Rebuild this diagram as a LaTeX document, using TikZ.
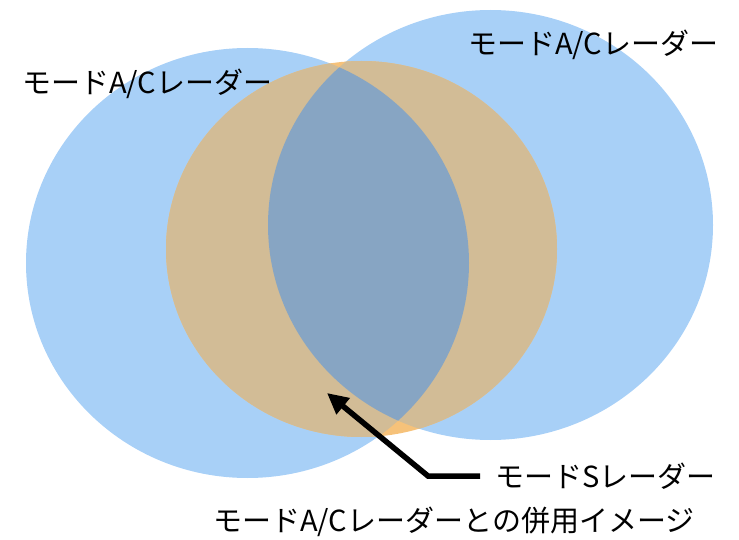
\documentclass[tikz,border=0pt]{standalone}
\usepackage{fontspec}
\newfontfamily\jpfont{Noto Sans CJK JP}
\usetikzlibrary{arrows.meta}
\definecolor{RadarBlue}{HTML}{A8D0F7}
\definecolor{DoubleBlue}{HTML}{86B8EA}
\definecolor{OverlapTan}{HTML}{D2BC96}
\definecolor{LensBlue}{HTML}{87A5C3}
\definecolor{ModeSOrange}{HTML}{F6C27A}

\begin{document}
\begin{tikzpicture}[
    x=1pt, y=-1pt,
    lab/.style={font=\jpfont\fontsize{29}{34}\selectfont, inner sep=0pt, anchor=west},
    arr/.style={-{Triangle[length=21pt, width=20pt]}, line width=5.5pt, black}
  ]
    \useasboundingbox (0,0) rectangle (739,540);

    % Mode A/C coverage (left, right)
    \fill[RadarBlue] (247.5,263) ellipse [x radius=221.5, y radius=215];
    \fill[RadarBlue] (490.5,225) ellipse [x radius=222.5, y radius=215];
    \begin{scope}
      \clip (247.5,263) ellipse [x radius=221.5, y radius=215];
      \fill[DoubleBlue] (490.5,225) ellipse [x radius=222.5, y radius=215];
    \end{scope}

    % Mode S coverage
    \fill[ModeSOrange] (361.5,249) ellipse [x radius=195.5, y radius=188];
    \begin{scope}
      \clip (361.5,249) ellipse [x radius=195.5, y radius=188];
      \fill[OverlapTan] (247.5,263) ellipse [x radius=221.5, y radius=215];
      \fill[OverlapTan] (490.5,225) ellipse [x radius=222.5, y radius=215];
      \clip (247.5,263) ellipse [x radius=221.5, y radius=215];
      \fill[LensBlue] (490.5,225) ellipse [x radius=222.5, y radius=215];
    \end{scope}

    % Labels
    \node[lab] (acleft)  at (22,84)   {モードA/Cレーダー};
    \node[lab] (acright) at (468,45)  {モードA/Cレーダー};
    \node[lab] (modes)   at (495,476) {モードSレーダー};
    \node[lab] (caption) at (213,522) {モードA/Cレーダーとの併用イメージ};

    % Pointer to Mode S area
    \coordinate (elbow) at (428,476);
    \coordinate (tip)   at (327,393);
    \draw[arr, shorten <=15pt] (modes.west) -- (elbow) -- (tip);
  \end{tikzpicture}
\end{document}
